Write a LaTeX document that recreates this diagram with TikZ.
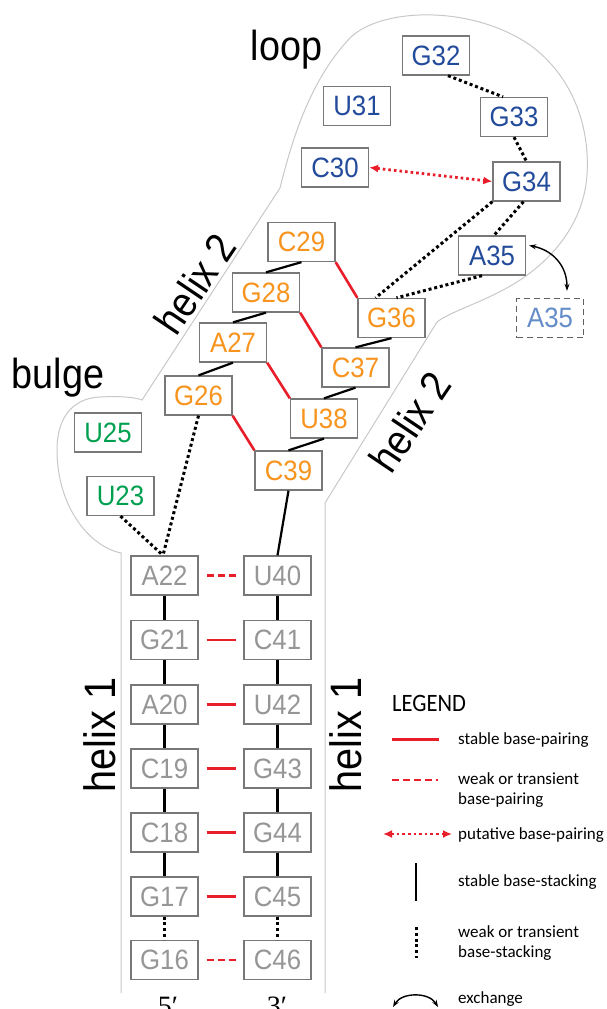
\documentclass[tikz,border=0pt]{standalone}
\usepackage{fontspec}
\setmainfont{Liberation Sans}
\newfontfamily\ntfont[FakeStretch=0.92]{Liberation Sans}
\newfontfamily\tagfont[FakeStretch=0.9]{Liberation Sans}
\newfontfamily\legendfont{Carlito}
\newfontfamily\legendhead[FakeStretch=0.9]{Carlito}
\newfontfamily\endfont{Liberation Serif}
\usetikzlibrary{arrows.meta}

\definecolor{ntblue}{RGB}{35,75,155}
\definecolor{ntorange}{RGB}{247,148,30}
\definecolor{ntgreen}{RGB}{0,160,80}
\definecolor{ntgray}{RGB}{150,150,150}
\definecolor{ntlight}{RGB}{100,140,200}
\definecolor{boxgray}{RGB}{120,120,120}
\definecolor{pairred}{RGB}{232,30,42}
\definecolor{outlinegray}{RGB}{200,200,200}

\begin{document}
\begin{tikzpicture}[x=1pt,y=-1pt,
  nt/.style={draw=boxgray, line width=1.3pt, minimum width=67pt, minimum height=39pt,
    inner sep=0pt, fill=white, font=\ntfont\fontsize{28}{28}\selectfont},
  loopnt/.style={nt, text=ntblue},
  helixnt/.style={nt, text=ntorange},
  bulgent/.style={nt, text=ntgreen},
  stemnt/.style={nt, text=ntgray},
  altnt/.style={nt, draw=boxgray!80!black, dash pattern=on 6pt off 4pt, text=ntlight},
  tag/.style={inner sep=0pt, font=\tagfont\fontsize{42}{42}\selectfont},
  outline/.style={draw=outlinegray, line width=1pt},
  stack/.style={line width=2.2pt, black},
  weakstack/.style={line width=3pt, black, dash pattern=on 3pt off 2.8pt},
  pair/.style={line width=2.6pt, pairred},
  weakpair/.style={pair, dash pattern=on 7pt off 4pt},
  putative/.style={pairred, line width=2.8pt, dash pattern=on 2.6pt off 3pt,
    {Latex[length=9pt,width=8pt]}-{Latex[length=9pt,width=8pt]}},
  swap/.style={line width=1.4pt, black,
    {Stealth[length=7pt,width=5pt]}-{Stealth[length=7pt,width=5pt]}},
  legtext/.style={anchor=west, align=left, inner sep=0pt,
    font=\legendfont\fontsize{17}{20.5}\selectfont}
]
\useasboundingbox (0,0) rectangle (607,1009);

% outline of stem, bulge and hairpin loop
\draw[outline] (121,993) -- (121,553)
  .. controls (88,546) and (57,505) .. (57,450)
  .. controls (57,415) and (75,398) .. (100,397)
  .. controls (120,396) and (134,397) .. (142,400)
  -- (280,188)
  .. controls (292,140) and (310,80) .. (350,38)
  .. controls (380,8) and (470,4) .. (530,45)
  .. controls (575,78) and (590,130) .. (587,175)
  .. controls (584,220) and (555,262) .. (505,289)
  .. controls (475,305) and (450,312) .. (437,322)
  -- (325,503) -- (325,993);

% region labels
\node[tag, anchor=base] (loop) at (286.5,60) {loop};
\node[tag, anchor=base] (bulge) at (58,388) {bulge};
\node[tag, rotate=56] (helixtwoa) at (195,284) {helix 2};
\node[tag, rotate=56] (helixtwob) at (410,422) {helix 2};
\node[tag, font=\tagfont\fontsize{44}{44}\selectfont, rotate=90] (helixonea) at (100,735) {helix 1};
\node[tag, font=\tagfont\fontsize{44}{44}\selectfont, rotate=90] (helixoneb) at (346,735) {helix 1};

% loop nucleotides
\node[loopnt] (G32) at (436,55.5) {G32};
\node[loopnt] (U31) at (357,106) {U31};
\node[loopnt] (G33) at (514,117) {G33};
\node[loopnt] (C30) at (335,167.5) {C30};
\node[loopnt] (G34) at (526.5,181.5) {G34};
\node[loopnt] (A35) at (492,255.5) {A35};
\node[altnt] (A35b) at (550,318) {A35};

% helix 2
\node[helixnt] (C29) at (301.5,242) {C29};
\node[helixnt] (G28) at (266,292.5) {G28};
\node[helixnt] (A27) at (233,342.5) {A27};
\node[helixnt] (G26) at (198.5,395.5) {G26};
\node[helixnt] (G36) at (391.5,318) {G36};
\node[helixnt] (C37) at (355.5,367.5) {C37};
\node[helixnt] (U38) at (324,418.5) {U38};
\node[helixnt] (C39) at (288.5,470.5) {C39};

% bulge
\node[bulgent] (U25) at (108,432.5) {U25};
\node[bulgent] (U23) at (120.5,496) {U23};

% helix 1
\node[stemnt] (A22) at (164.5,575.5) {A22};
\node[stemnt] (G21) at (164.5,640) {G21};
\node[stemnt] (A20) at (164.5,704.5) {A20};
\node[stemnt] (C19) at (164.5,768.5) {C19};
\node[stemnt] (C18) at (164.5,832.5) {C18};
\node[stemnt] (G17) at (164.5,896.5) {G17};
\node[stemnt] (G16) at (164.5,960) {G16};
\node[stemnt] (U40) at (277.5,575.5) {U40};
\node[stemnt] (C41) at (277.5,640) {C41};
\node[stemnt] (U42) at (277.5,704.5) {U42};
\node[stemnt] (G43) at (277.5,768.5) {G43};
\node[stemnt] (G44) at (277.5,832.5) {G44};
\node[stemnt] (C45) at (277.5,896.5) {C45};
\node[stemnt] (C46) at (277.5,960) {C46};

\node[inner sep=0pt, anchor=base, font=\endfont\fontsize{28}{28}\selectfont] (five) at (168,1015) {5′};
\node[inner sep=0pt, anchor=base, font=\endfont\fontsize{28}{28}\selectfont] (three) at (277,1015) {3′};

% loop stacking
\draw[weakstack] ([xshift=12pt]G32.south) -- ([xshift=-11pt]G33.north);
\draw[weakstack] (G33.south) -- (G34.north);
\draw[weakstack] ([xshift=-3pt]G34.south) -- ([xshift=2pt]A35.north);
\draw[weakstack] (G34.south west) -- ([xshift=-16pt]G36.north);
\draw[weakstack] ([xshift=-10pt]A35.south) -- ([xshift=5pt]G36.north);
\draw[putative] (C30.east) -- (G34.west);
\draw[swap] ([xshift=3pt,yshift=10pt]A35.east)
  .. controls (552,250) and (567,265) .. ([xshift=17pt,yshift=7pt]A35b.north);

% helix 2 stacking and pairing
\draw[stack] (C29.south) -- (G28.north);
\draw[stack] (G28.south) -- (A27.north);
\draw[stack] (A27.south) -- (G26.north);
\draw[stack] (G36.south) -- (C37.north);
\draw[stack] (C37.south) -- (U38.north);
\draw[stack] (U38.south) -- (C39.north);
\draw[pair] (C29.south east) -- (G36.north west);
\draw[pair] (G28.south east) -- (C37.north west);
\draw[pair] (A27.south east) -- (U38.north west);
\draw[pair] (G26.south east) -- (C39.north west);

% junction to helix 1
\draw[weakstack] (G26.south) -- ([xshift=-1.5pt]A22.north);
\draw[weakstack] (U23.south) -- ([xshift=-1.5pt]A22.north);
\draw[stack] (C39.south) -- (U40.north);

% helix 1 stacking
\foreach \a/\b in {A22/G21, G21/A20, A20/C19, C19/C18, C18/G17,
                   U40/C41, C41/U42, U42/G43, G43/G44, G44/C45}
  \draw[stack] (\a.south) -- (\b.north);
\draw[weakstack] (G17.south) -- (G16.north);
\draw[weakstack] (C45.south) -- (C46.north);

% helix 1 pairing
\draw[weakpair, shorten <=8pt, shorten >=7pt] (A22) -- (U40);
\foreach \a/\b in {G21/C41, A20/U42, C19/G43, C18/G44, G17/C45}
  \draw[pair, shorten <=8pt, shorten >=7pt] (\a) -- (\b);
\draw[weakpair, shorten <=8pt, shorten >=7pt] (G16) -- (C46);

% legend
\node[anchor=west, inner sep=0pt, font=\legendhead\fontsize{25}{25}\selectfont] (leg) at (392,703) {LEGEND};
\coordinate (l1a) at (392,739.5); \coordinate (l1b) at (439,739.5);
\draw[pair] (l1a) -- (l1b);
\node[legtext] (t1) at (458,740) {stable base-pairing};
\coordinate (l2a) at (392,780); \coordinate (l2b) at (438,780);
\draw[weakpair] (l2a) -- (l2b);
\node[legtext] (t2) at (458,790) {weak or transient\\base-pairing};
\coordinate (l3a) at (383,834); \coordinate (l3b) at (452,834);
\draw[putative] (l3a) -- (l3b);
\node[legtext] (t3) at (458,835) {putative base-pairing};
\coordinate (l4a) at (416,863); \coordinate (l4b) at (416,901);
\draw[stack] (l4a) -- (l4b);
\node[legtext] (t4) at (458,882) {stable base-stacking};
\coordinate (l5a) at (416,927); \coordinate (l5b) at (416,958);
\draw[weakstack] (l5a) -- (l5b);
\node[legtext] (t5) at (458,943) {weak or transient\\base-stacking};
\coordinate (l6a) at (393,1007); \coordinate (l6b) at (438,1007);
\draw[swap] (l6a) .. controls (402,992) and (429,992) .. (l6b);
\node[legtext] (t6) at (458,999) {exchange};
\end{tikzpicture}
\end{document}
